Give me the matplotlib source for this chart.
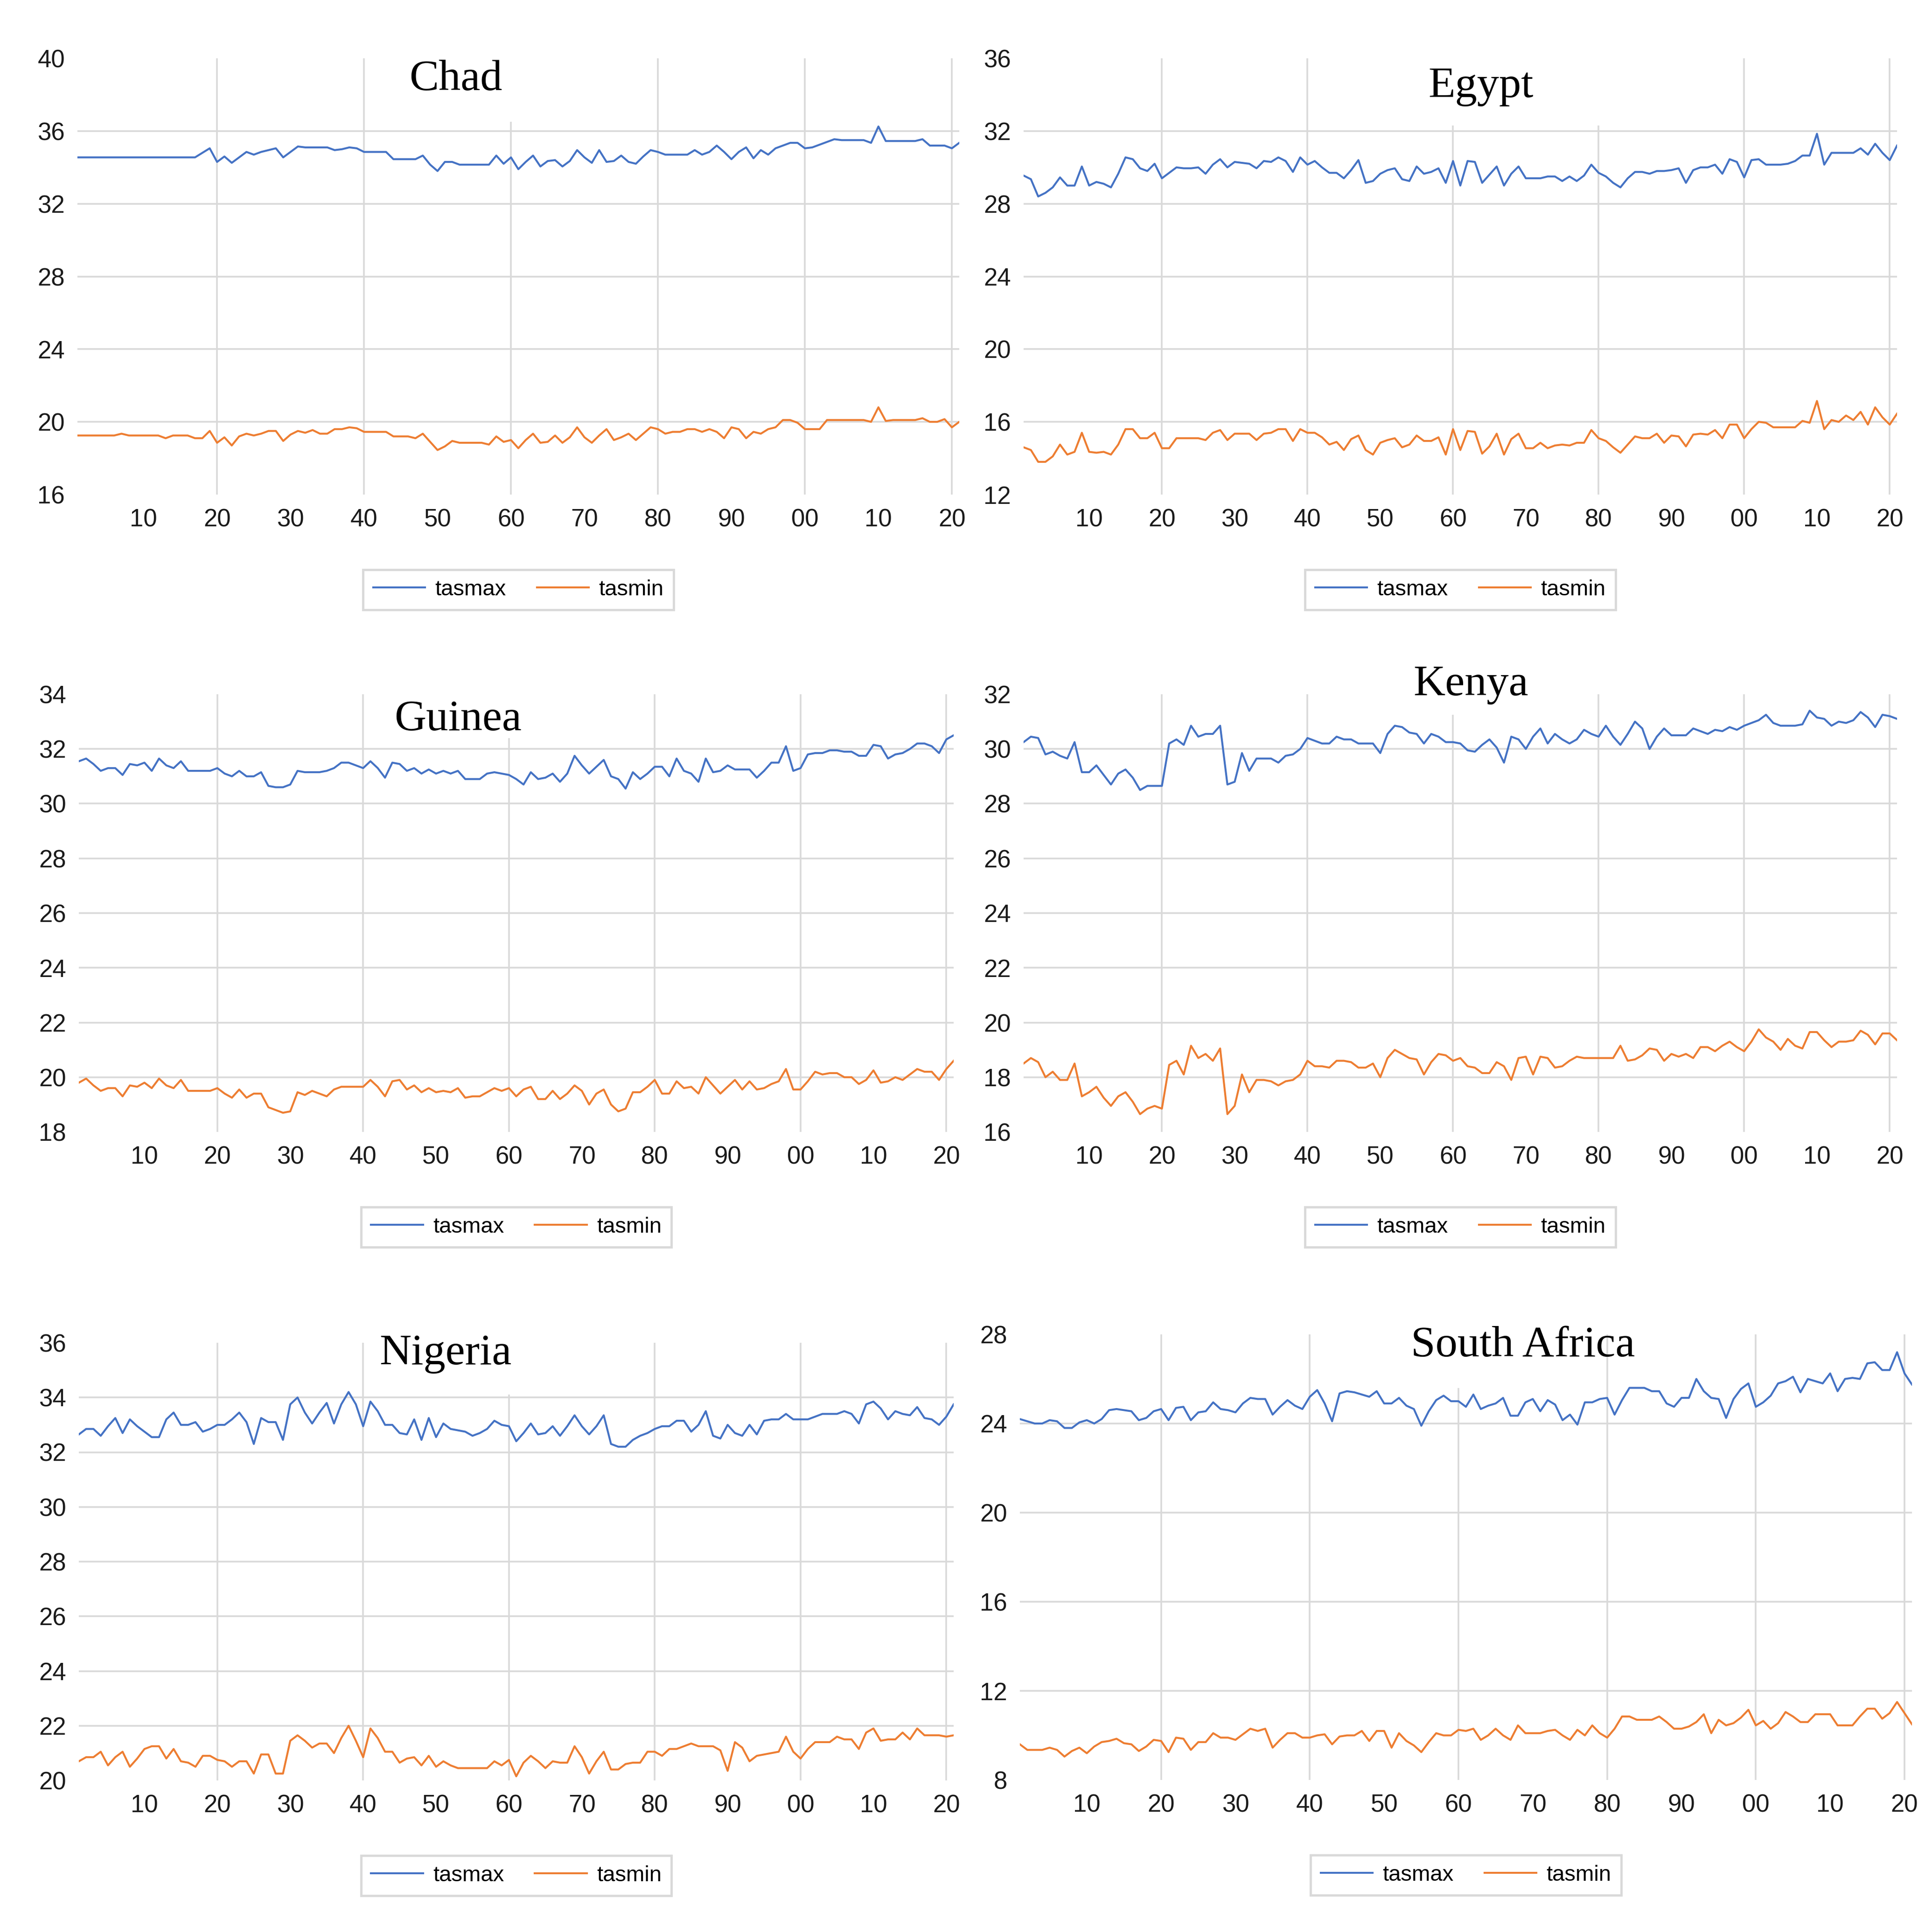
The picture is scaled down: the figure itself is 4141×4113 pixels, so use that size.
import matplotlib
matplotlib.use('Agg')
import matplotlib.pyplot as plt
from matplotlib.ticker import FixedLocator, FuncFormatter

plt.rcParams['font.family'] = 'Liberation Sans'

years = list(range(1901, 2022))

# annual mean temperatures, 1901-2021
chad_tasmax = [
    34.55, 34.55, 34.55, 34.55, 34.55, 34.55, 34.55, 34.55, 34.55, 34.55,
    34.55, 34.55, 34.55, 34.55, 34.55, 34.55, 34.55, 34.8, 35.05, 34.3,
    34.6, 34.25, 34.55, 34.85, 34.7, 34.85, 34.95, 35.05, 34.55, 34.85,
    35.15, 35.1, 35.1, 35.1, 35.1, 34.95, 35.0, 35.1, 35.05, 34.85,
    34.85, 34.85, 34.85, 34.45, 34.45, 34.45, 34.45, 34.65, 34.15, 33.8,
    34.3, 34.3, 34.15, 34.15, 34.15, 34.15, 34.15, 34.65, 34.2, 34.55,
    33.9, 34.3, 34.65, 34.05, 34.35, 34.4, 34.05, 34.35, 34.95, 34.55,
    34.25, 34.95, 34.3, 34.35, 34.65, 34.3, 34.2, 34.6, 34.95, 34.85,
    34.7, 34.7, 34.7, 34.7, 34.95, 34.7, 34.85, 35.2, 34.85, 34.45,
    34.85, 35.1, 34.5, 34.95, 34.7, 35.05, 35.2, 35.35, 35.35, 35.05,
    35.1, 35.25, 35.4, 35.55, 35.5, 35.5, 35.5, 35.5, 35.35, 36.25,
    35.45, 35.45, 35.45, 35.45, 35.45, 35.55, 35.2, 35.2, 35.2, 35.05,
    35.35]
chad_tasmin = [
    19.25, 19.25, 19.25, 19.25, 19.25, 19.25, 19.35, 19.25, 19.25, 19.25,
    19.25, 19.25, 19.1, 19.25, 19.25, 19.25, 19.1, 19.1, 19.5, 18.85,
    19.15, 18.7, 19.2, 19.35, 19.25, 19.35, 19.5, 19.5, 18.95, 19.3,
    19.5, 19.4, 19.55, 19.35, 19.35, 19.6, 19.6, 19.7, 19.65, 19.45,
    19.45, 19.45, 19.45, 19.2, 19.2, 19.2, 19.1, 19.35, 18.9, 18.45,
    18.65, 18.95, 18.85, 18.85, 18.85, 18.85, 18.75, 19.2, 18.9, 19.0,
    18.55, 19.0, 19.35, 18.85, 18.9, 19.25, 18.85, 19.15, 19.7, 19.15,
    18.85, 19.25, 19.6, 19.0, 19.15, 19.35, 19.0, 19.35, 19.7, 19.6,
    19.35, 19.45, 19.45, 19.6, 19.6, 19.45, 19.6, 19.45, 19.1, 19.7,
    19.6, 19.1, 19.45, 19.35, 19.6, 19.7, 20.1, 20.1, 19.95, 19.6,
    19.6, 19.6, 20.1, 20.1, 20.1, 20.1, 20.1, 20.1, 20.0, 20.8,
    20.05, 20.1, 20.1, 20.1, 20.1, 20.2, 20.0, 20.0, 20.15, 19.7,
    20.0]

egypt_tasmax = [
    29.55, 29.35, 28.4, 28.6, 28.9, 29.45, 29.0, 29.0, 30.05, 29.0,
    29.2, 29.1, 28.9, 29.65, 30.55, 30.45, 29.95, 29.8, 30.2, 29.4,
    29.7, 30.0, 29.95, 29.95, 30.0, 29.65, 30.15, 30.45, 30.0, 30.3,
    30.25, 30.2, 29.95, 30.35, 30.3, 30.55, 30.35, 29.75, 30.55, 30.15,
    30.35, 30.0, 29.7, 29.7, 29.4, 29.85, 30.4, 29.15, 29.25, 29.65,
    29.85, 29.95, 29.35, 29.25, 30.05, 29.65, 29.75, 29.95, 29.15, 30.35,
    29.0, 30.35, 30.3, 29.15, 29.6, 30.05, 29.0, 29.65, 30.05, 29.4,
    29.4, 29.4, 29.5, 29.5, 29.25, 29.5, 29.25, 29.55, 30.15, 29.7,
    29.5, 29.15, 28.9, 29.4, 29.75, 29.75, 29.65, 29.8, 29.8, 29.85,
    29.95, 29.15, 29.85, 30.0, 30.0, 30.15, 29.65, 30.45, 30.3, 29.45,
    30.4, 30.45, 30.15, 30.15, 30.15, 30.2, 30.35, 30.65, 30.65, 31.85,
    30.15, 30.8, 30.8, 30.8, 30.8, 31.05, 30.7, 31.3, 30.8, 30.4,
    31.2]
egypt_tasmin = [
    14.6, 14.45, 13.8, 13.8, 14.1, 14.75, 14.2, 14.35, 15.4, 14.35,
    14.3, 14.35, 14.2, 14.75, 15.6, 15.6, 15.1, 15.1, 15.4, 14.55,
    14.55, 15.1, 15.1, 15.1, 15.1, 15.0, 15.4, 15.55, 15.0, 15.35,
    15.35, 15.35, 15.0, 15.35, 15.4, 15.6, 15.6, 14.95, 15.6, 15.4,
    15.4, 15.15, 14.75, 14.9, 14.45, 15.05, 15.25, 14.45, 14.2, 14.85,
    15.0, 15.1, 14.6, 14.75, 15.25, 14.95, 14.95, 15.15, 14.2, 15.6,
    14.45, 15.5, 15.45, 14.25, 14.65, 15.35, 14.2, 15.05, 15.35, 14.55,
    14.55, 14.85, 14.55, 14.7, 14.75, 14.7, 14.85, 14.85, 15.55, 15.1,
    14.95, 14.6, 14.3, 14.75, 15.2, 15.1, 15.1, 15.35, 14.85, 15.25,
    15.2, 14.65, 15.3, 15.35, 15.3, 15.55, 15.1, 15.85, 15.85, 15.1,
    15.6, 16.0, 15.95, 15.7, 15.7, 15.7, 15.7, 16.05, 15.95, 17.15,
    15.6, 16.1, 16.0, 16.35, 16.1, 16.55, 15.85, 16.8, 16.25, 15.85,
    16.45]

guinea_tasmax = [
    31.55, 31.65, 31.45, 31.2, 31.3, 31.3, 31.05, 31.45, 31.4, 31.5,
    31.2, 31.65, 31.4, 31.3, 31.55, 31.2, 31.2, 31.2, 31.2, 31.3,
    31.1, 31.0, 31.2, 31.0, 31.0, 31.15, 30.65, 30.6, 30.6, 30.7,
    31.2, 31.15, 31.15, 31.15, 31.2, 31.3, 31.5, 31.5, 31.4, 31.3,
    31.55, 31.3, 30.95, 31.5, 31.45, 31.2, 31.3, 31.1, 31.25, 31.1,
    31.2, 31.1, 31.2, 30.9, 30.9, 30.9, 31.1, 31.15, 31.1, 31.05,
    30.9, 30.7, 31.15, 30.9, 30.95, 31.1, 30.8, 31.1, 31.75, 31.4,
    31.1, 31.35, 31.6, 31.0, 30.9, 30.55, 31.15, 30.9, 31.1, 31.35,
    31.35, 31.0, 31.65, 31.2, 31.1, 30.8, 31.65, 31.15, 31.2, 31.4,
    31.25, 31.25, 31.25, 30.95, 31.2, 31.5, 31.5, 32.1, 31.2, 31.3,
    31.8, 31.85, 31.85, 31.95, 31.95, 31.9, 31.9, 31.75, 31.75, 32.15,
    32.1, 31.65, 31.8, 31.85, 32.0, 32.2, 32.2, 32.1, 31.85, 32.35,
    32.5]
guinea_tasmin = [
    19.8, 19.95, 19.7, 19.5, 19.6, 19.6, 19.3, 19.7, 19.65, 19.8,
    19.6, 19.95, 19.7, 19.6, 19.9, 19.5, 19.5, 19.5, 19.5, 19.6,
    19.4, 19.25, 19.55, 19.25, 19.4, 19.4, 18.9, 18.8, 18.7, 18.75,
    19.45, 19.35, 19.5, 19.4, 19.3, 19.55, 19.65, 19.65, 19.65, 19.65,
    19.9, 19.65, 19.3, 19.85, 19.9, 19.55, 19.7, 19.45, 19.6, 19.45,
    19.5, 19.45, 19.6, 19.25, 19.3, 19.3, 19.45, 19.6, 19.5, 19.6,
    19.3, 19.55, 19.65, 19.2, 19.2, 19.5, 19.2, 19.4, 19.7, 19.5,
    19.0, 19.4, 19.55, 19.0, 18.75, 18.85, 19.45, 19.45, 19.65, 19.9,
    19.4, 19.4, 19.85, 19.6, 19.65, 19.4, 20.0, 19.7, 19.4, 19.65,
    19.9, 19.55, 19.85, 19.55, 19.6, 19.75, 19.85, 20.3, 19.55, 19.55,
    19.85, 20.2, 20.1, 20.15, 20.15, 20.0, 20.0, 19.75, 19.9, 20.25,
    19.8, 19.85, 20.0, 19.9, 20.1, 20.3, 20.2, 20.2, 19.9, 20.3,
    20.6]

kenya_tasmax = [
    30.25, 30.45, 30.4, 29.8, 29.9, 29.75, 29.65, 30.25, 29.15, 29.15,
    29.4, 29.05, 28.7, 29.1, 29.25, 28.95, 28.5, 28.65, 28.65, 28.65,
    30.2, 30.35, 30.15, 30.85, 30.45, 30.55, 30.55, 30.85, 28.7, 28.8,
    29.85, 29.2, 29.65, 29.65, 29.65, 29.5, 29.75, 29.8, 30.0, 30.4,
    30.3, 30.2, 30.2, 30.45, 30.35, 30.35, 30.2, 30.2, 30.2, 29.85,
    30.55, 30.85, 30.8, 30.6, 30.55, 30.2, 30.55, 30.45, 30.25, 30.25,
    30.2, 29.95, 29.9, 30.15, 30.35, 30.05, 29.5, 30.45, 30.35, 30.0,
    30.45, 30.75, 30.2, 30.55, 30.35, 30.2, 30.35, 30.7, 30.55, 30.45,
    30.85, 30.45, 30.15, 30.55, 31.0, 30.75, 30.0, 30.45, 30.75, 30.5,
    30.5, 30.5, 30.75, 30.65, 30.55, 30.7, 30.65, 30.8, 30.7, 30.85,
    30.95, 31.05, 31.25, 30.95, 30.85, 30.85, 30.85, 30.9, 31.4, 31.15,
    31.1, 30.85, 31.0, 30.95, 31.05, 31.35, 31.15, 30.8, 31.25, 31.2,
    31.1]
kenya_tasmin = [
    18.5, 18.7, 18.55, 18.0, 18.2, 17.9, 17.9, 18.5, 17.3, 17.45,
    17.65, 17.25, 16.95, 17.3, 17.45, 17.1, 16.65, 16.85, 16.95, 16.85,
    18.45, 18.6, 18.1, 19.15, 18.7, 18.85, 18.6, 19.05, 16.65, 16.95,
    18.1, 17.45, 17.9, 17.9, 17.85, 17.7, 17.85, 17.9, 18.1, 18.6,
    18.4, 18.4, 18.35, 18.6, 18.6, 18.55, 18.35, 18.35, 18.5, 18.0,
    18.7, 19.0, 18.85, 18.7, 18.65, 18.1, 18.55, 18.85, 18.8, 18.6,
    18.7, 18.4, 18.35, 18.15, 18.15, 18.55, 18.4, 17.9, 18.7, 18.75,
    18.1, 18.75, 18.7, 18.35, 18.4, 18.6, 18.75, 18.7, 18.7, 18.7,
    18.7, 18.7, 19.15, 18.6, 18.65, 18.8, 19.05, 19.0, 18.6, 18.85,
    18.75, 18.85, 18.7, 19.1, 19.1, 18.95, 19.15, 19.3, 19.1, 18.95,
    19.3, 19.75, 19.45, 19.3, 19.0, 19.4, 19.15, 19.05, 19.65, 19.65,
    19.35, 19.1, 19.3, 19.3, 19.35, 19.7, 19.55, 19.2, 19.6, 19.6,
    19.35]

nigeria_tasmax = [
    32.65, 32.85, 32.85, 32.6, 32.95, 33.25, 32.7, 33.2, 32.95, 32.75,
    32.55, 32.55, 33.2, 33.45, 33.0, 33.0, 33.1, 32.75, 32.85, 33.0,
    33.0, 33.2, 33.45, 33.1, 32.3, 33.25, 33.1, 33.1, 32.45, 33.75,
    34.0, 33.45, 33.05, 33.45, 33.8, 33.05, 33.75, 34.2, 33.75, 32.95,
    33.85, 33.5, 33.0, 33.0, 32.7, 32.65, 33.2, 32.45, 33.25, 32.55,
    33.05, 32.85, 32.8, 32.75, 32.6, 32.7, 32.85, 33.15, 33.0, 32.95,
    32.4, 32.7, 33.05, 32.65, 32.7, 32.95, 32.6, 32.95, 33.35, 32.95,
    32.65, 32.95, 33.35, 32.3, 32.2, 32.2, 32.45, 32.6, 32.7, 32.85,
    32.95, 32.95, 33.15, 33.15, 32.75, 33.0, 33.5, 32.6, 32.5, 33.0,
    32.7, 32.6, 33.0, 32.65, 33.15, 33.2, 33.2, 33.4, 33.2, 33.2,
    33.2, 33.3, 33.4, 33.4, 33.4, 33.5, 33.4, 33.05, 33.75, 33.85,
    33.6, 33.2, 33.5, 33.4, 33.35, 33.65, 33.25, 33.2, 33.0, 33.3,
    33.75]
nigeria_tasmin = [
    20.7, 20.85, 20.85, 21.05, 20.55, 20.85, 21.05, 20.5, 20.8, 21.15,
    21.25, 21.25, 20.8, 21.15, 20.7, 20.65, 20.5, 20.9, 20.9, 20.75,
    20.7, 20.5, 20.7, 20.7, 20.25, 20.95, 20.95, 20.25, 20.25, 21.45,
    21.65, 21.45, 21.2, 21.35, 21.35, 21.0, 21.55, 22.0, 21.45, 20.85,
    21.9, 21.55, 21.05, 21.05, 20.65, 20.8, 20.85, 20.55, 20.9, 20.5,
    20.7, 20.55, 20.45, 20.45, 20.45, 20.45, 20.45, 20.7, 20.55, 20.75,
    20.15, 20.65, 20.9, 20.7, 20.45, 20.7, 20.65, 20.65, 21.25, 20.85,
    20.25, 20.7, 21.05, 20.4, 20.4, 20.6, 20.65, 20.65, 21.05, 21.05,
    20.9, 21.15, 21.15, 21.25, 21.35, 21.25, 21.25, 21.25, 21.1, 20.35,
    21.4, 21.2, 20.7, 20.9, 20.95, 21.0, 21.05, 21.6, 21.05, 20.8,
    21.15, 21.4, 21.4, 21.4, 21.6, 21.5, 21.5, 21.15, 21.75, 21.9,
    21.45, 21.5, 21.5, 21.75, 21.5, 21.9, 21.65, 21.65, 21.65, 21.6,
    21.65]

safrica_tasmax = [
    24.2, 24.1, 24.0, 24.0, 24.15, 24.1, 23.8, 23.8, 24.05, 24.15,
    24.0, 24.2, 24.6, 24.65, 24.6, 24.55, 24.15, 24.25, 24.55, 24.65,
    24.15, 24.7, 24.75, 24.15, 24.5, 24.55, 24.95, 24.65, 24.6, 24.5,
    24.9, 25.15, 25.1, 25.1, 24.4, 24.75, 25.05, 24.8, 24.65, 25.2,
    25.5, 24.9, 24.1, 25.35, 25.45, 25.4, 25.3, 25.2, 25.45, 24.9,
    24.9, 25.15, 24.8, 24.65, 23.9, 24.55, 25.05, 25.25, 25.0, 25.0,
    24.75, 25.3, 24.65, 24.8, 24.9, 25.15, 24.35, 24.35, 24.95, 25.1,
    24.55, 25.05, 24.85, 24.15, 24.4, 23.95, 24.95, 24.95, 25.1, 25.15,
    24.4, 25.05, 25.6, 25.6, 25.6, 25.45, 25.45, 24.9, 24.75, 25.15,
    25.15, 26.0, 25.45, 25.15, 25.1, 24.25, 25.1, 25.55, 25.8, 24.75,
    24.95, 25.25, 25.8, 25.9, 26.1, 25.4, 26.0, 25.9, 25.8, 26.25,
    25.45, 26.0, 26.05, 26.0, 26.7, 26.75, 26.4, 26.4, 27.2, 26.25,
    25.75]
safrica_tasmin = [
    9.6, 9.35, 9.35, 9.35, 9.45, 9.35, 9.05, 9.3, 9.45, 9.2,
    9.5, 9.7, 9.75, 9.85, 9.65, 9.6, 9.3, 9.5, 9.8, 9.75,
    9.25, 9.9, 9.85, 9.35, 9.7, 9.7, 10.1, 9.9, 9.9, 9.8,
    10.05, 10.3, 10.2, 10.3, 9.45, 9.8, 10.1, 10.1, 9.9, 9.9,
    10.0, 10.05, 9.6, 9.95, 10.0, 10.0, 10.2, 9.75, 10.2, 10.2,
    9.45, 10.1, 9.75, 9.55, 9.25, 9.7, 10.1, 10.0, 10.0, 10.25,
    10.2, 10.3, 9.8, 10.0, 10.3, 10.0, 9.8, 10.45, 10.1, 10.1,
    10.1, 10.2, 10.25, 10.0, 9.8, 10.25, 10.0, 10.45, 10.1, 9.9,
    10.3, 10.85, 10.85, 10.7, 10.7, 10.7, 10.85, 10.6, 10.3, 10.3,
    10.4, 10.6, 10.95, 10.1, 10.7, 10.45, 10.55, 10.8, 11.15, 10.45,
    10.65, 10.3, 10.55, 11.05, 10.85, 10.6, 10.6, 10.95, 10.95, 10.95,
    10.45, 10.45, 10.45, 10.85, 11.2, 11.2, 10.75, 11.0, 11.5, 11.0,
    10.5]

chad_yticks = [16, 20, 24, 28, 32, 36, 40]
egypt_yticks = [12, 16, 20, 24, 28, 32, 36]
guinea_yticks = [18, 20, 22, 24, 26, 28, 30, 32, 34]
kenya_yticks = [16, 18, 20, 22, 24, 26, 28, 30, 32]
nigeria_yticks = [20, 22, 24, 26, 28, 30, 32, 34, 36]
safrica_yticks = [8, 12, 16, 20, 24, 28]

W, H = 4141, 4113
BLUE = '#4472C4'
ORANGE = '#ED7D31'
GRID = '#d9d9d9'

fig = plt.figure(figsize=(W / 100, H / 100), dpi=100)


def draw_panel(box, title, title_xy, tmax, tmin, yticks, cut):
    left, right, top, bottom = box
    ax = fig.add_axes([left / W, 1 - bottom / H, (right - left) / W, (bottom - top) / H])
    ax.set_xlim(1901, 2021)
    ax.set_ylim(yticks[0], yticks[-1])
    for s in ax.spines.values():
        s.set_visible(False)

    # excel style grid: inner horizontal lines, vertical every 20 years
    for yv in yticks[1:-1]:
        ax.axhline(yv, color=GRID, lw=2.6, zorder=1)
    for xv in range(1920, 2021, 20):
        ax.vlines(xv, yticks[0], cut.get(xv, yticks[-1]), color=GRID, lw=2.6, zorder=1)

    ax.plot(years, tmax, color=BLUE, lw=3.0, label='tasmax', zorder=3)
    ax.plot(years, tmin, color=ORANGE, lw=3.0, label='tasmin', zorder=3)

    ax.set_yticks(yticks)
    ax.xaxis.set_major_locator(FixedLocator(list(range(1910, 2021, 10))))
    ax.xaxis.set_major_formatter(FuncFormatter(lambda v, p: '%02d' % (int(round(v)) % 100)))
    ax.tick_params(length=0, labelsize=38, labelcolor='#1a1a1a')
    ax.tick_params(axis='x', pad=21)
    ax.tick_params(axis='y', pad=19.5)

    leg = ax.legend(loc='center', bbox_to_anchor=(0.5, -204 / (bottom - top)), ncol=2,
                    fontsize=34, frameon=True, fancybox=False, framealpha=1,
                    edgecolor=GRID, handlelength=2.36, handletextpad=0.45,
                    columnspacing=1.4, borderpad=0.45)
    leg.get_frame().set_linewidth(3.5)

    fig.text(title_xy[0] / W, 1 - title_xy[1] / H, title, ha='center', va='center',
             fontsize=68, family='Liberation Serif', color='black')


draw_panel((166, 2056, 125, 1060), 'Chad', (977, 170),
           chad_tasmax, chad_tasmin, chad_yticks, {1960: 36.5})
draw_panel((2194, 4066, 125, 1060), 'Egypt', (3174, 186),
           egypt_tasmax, egypt_tasmin, egypt_yticks, {1960: 32.3, 1980: 32.3})
draw_panel((169, 2044, 1488, 2426), 'Guinea', (982, 1542),
           guinea_tasmax, guinea_tasmin, guinea_yticks, {1960: 32.4})
draw_panel((2194, 4066, 1488, 2426), 'Kenya', (3153, 1468),
           kenya_tasmax, kenya_tasmin, kenya_yticks, {1960: 31.25})
draw_panel((169, 2044, 2878, 3816), 'Nigeria', (955, 2901),
           nigeria_tasmax, nigeria_tasmin, nigeria_yticks, {1960: 34.1})
draw_panel((2186, 4098, 2860, 3815), 'South Africa', (3264, 2885),
           safrica_tasmax, safrica_tasmin, safrica_yticks, {1960: 25.6})

fig.savefig('out.png', dpi=100, facecolor='white')
